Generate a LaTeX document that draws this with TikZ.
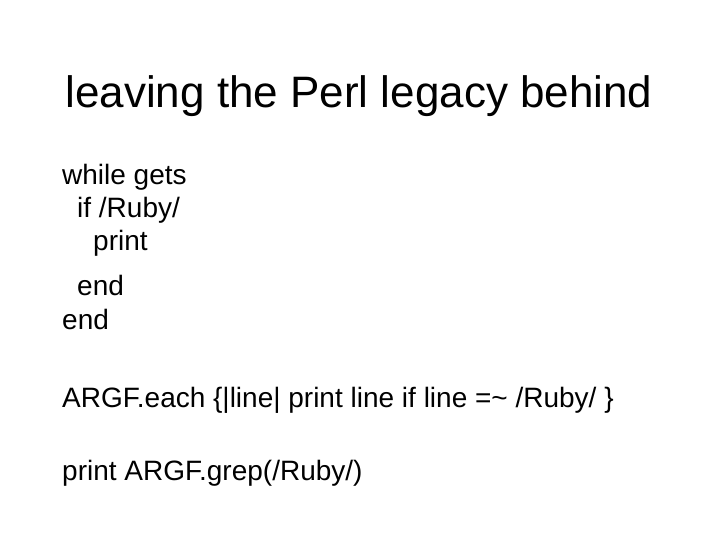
\documentclass[tikz,border=0pt]{standalone}
\usepackage{fontspec}
\setmainfont{Liberation Sans}
\begin{document}
\begin{tikzpicture}[x=1pt,y=-1pt,
  body/.style={anchor=base west,inner sep=0pt,font=\fontsize{28}{32}\selectfont},
  ttl/.style={anchor=base,inner sep=0pt,font=\fontsize{44}{50}\selectfont}]
\useasboundingbox[fill=white] (0,0) rectangle (720,540);
\node[ttl] (t) at (359,108) {leaving the Perl legacy behind};
\node[body] (l1) at (62,185) {while gets};
\node[body] (l2) at (77,218) {if /Ruby/};
\node[body] (l3) at (93,251) {print};
\node[body] (l4) at (77,295) {end};
\node[body] (l5) at (62,329) {end};
\node[body] (l6) at (62,407) {ARGF.each \{|line| print line if line =\textasciitilde{} /Ruby/ \}};
\node[body] (l7) at (62,480) {print ARGF.grep(/Ruby/)};
\end{tikzpicture}
\end{document}
